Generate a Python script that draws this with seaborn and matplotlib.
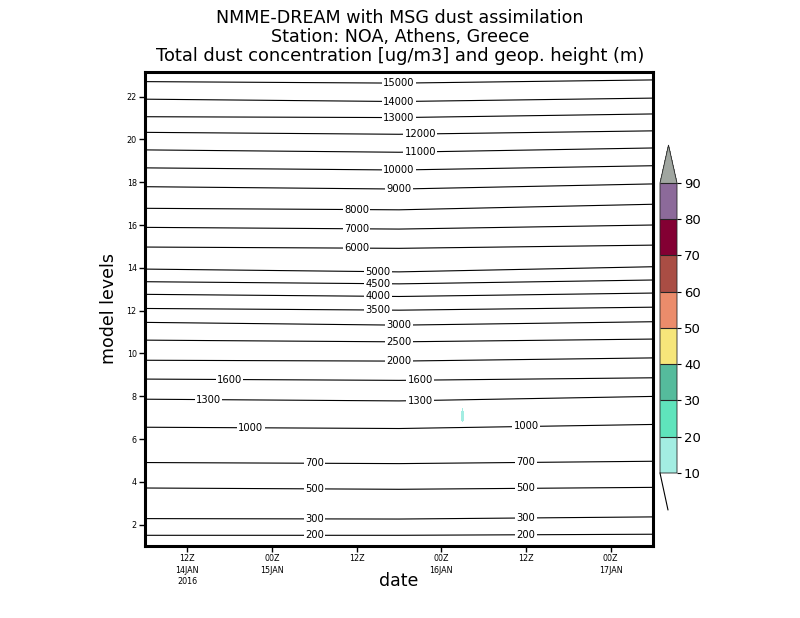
import numpy as np
import pandas as pd
import matplotlib
matplotlib.use('Agg')
import matplotlib.pyplot as plt
from matplotlib.colors import ListedColormap, BoundaryNorm
from matplotlib.lines import Line2D
import seaborn as sns

sns.set_style('white')
plt.rcParams['font.family'] = ['DejaVu Sans']
plt.rcParams['text.color'] = 'black'
plt.rcParams['xtick.color'] = 'black'
plt.rcParams['ytick.color'] = 'black'

# geopotential height isolines: model level of each line at start / middle / end of run
heights = [200, 300, 500, 700, 1000, 1300, 1600, 2000, 2500, 3000, 3500, 4000,
           4500, 5000, 6000, 7000, 8000, 9000, 10000, 11000, 12000, 13000, 14000, 15000]
line_hours = [0, 36, 72]
lev_start = [1.50, 2.28, 3.71, 4.90, 6.55, 7.86, 8.80, 9.68, 10.62, 11.45, 12.10, 12.76,
             13.35, 13.94, 14.97, 15.89, 16.78, 17.79, 18.67, 19.51, 20.33, 21.06, 21.88, 22.70]
lev_mid = [1.50, 2.26, 3.65, 4.85, 6.49, 7.78, 8.74, 9.64, 10.54, 11.32, 12.02, 12.66,
           13.25, 13.81, 14.91, 15.81, 16.71, 17.68, 18.57, 19.40, 20.24, 21.02, 21.77, 22.63]
lev_end = [1.55, 2.36, 3.74, 4.96, 6.68, 7.99, 8.86, 9.79, 10.67, 11.48, 12.16, 12.82,
           13.43, 14.05, 15.06, 16.00, 16.97, 17.92, 18.77, 19.60, 20.40, 21.19, 21.93, 22.78]

# dust concentration (ug/m3): zero except one small patch
dust_hours = np.arange(0, 73)
model_levels = np.arange(1, 24)
blob_hour = [45, 45]
blob_level = [7, 8]
blob_value = [12.5, 7.0]

dust_bounds = [10, 20, 30, 40, 50, 60, 70, 80, 90]
dust_colors = ['#a3ede2', '#5fe4bc', '#55bb9c', '#f6e67a', '#eb8c6b',
               '#a94d44', '#830033', '#8c6a9a']
over_color = '#a0a6a0'

tick_hours = [6, 18, 30, 42, 54, 66]
tick_labels = ['12Z\n14JAN\n2016', '00Z\n15JAN', '12Z', '00Z\n16JAN', '12Z', '00Z\n17JAN']

# where the isoline labels sit (hours)
label_hours = {15000: [36], 14000: [36], 13000: [36], 12000: [39], 11000: [39],
               10000: [36], 9000: [36], 8000: [30], 7000: [30], 6000: [30],
               5000: [33], 4500: [33], 4000: [33], 3500: [33], 3000: [36],
               2500: [36], 2000: [36], 1600: [12, 39], 1300: [9, 39],
               1000: [15, 54], 700: [24, 54], 500: [24, 54], 300: [24, 54], 200: [24, 54]}

rows = []
for i, h in enumerate(heights):
    for t, lv in zip(line_hours, [lev_start[i], lev_mid[i], lev_end[i]]):
        rows.append({'hour': t, 'level': lv, 'height': h})
df = pd.DataFrame(rows)

dust = np.zeros((len(model_levels), len(dust_hours)))
for t, lv, v in zip(blob_hour, blob_level, blob_value):
    dust[lv - 1, t] = v

W, H = 800, 618
fig = plt.figure(figsize=(8, 6.18), dpi=100)
ax = fig.add_axes([145 / W, 1 - 546 / H, 508 / W, 474 / H])

cmap = ListedColormap(dust_colors)
cmap.set_over(over_color)
norm = BoundaryNorm(dust_bounds, cmap.N)
cf = ax.contourf(dust_hours, model_levels, dust, levels=dust_bounds,
                 cmap=cmap, norm=norm, extend='max')

sns.lineplot(data=df, x='hour', y='level', units='height', estimator=None,
             color='black', lw=0.8, ax=ax, legend=False)

for i, h in enumerate(heights):
    for t in label_hours[h]:
        y = np.interp(t, line_hours, [lev_start[i], lev_mid[i], lev_end[i]])
        ax.text(t, y, str(h), ha='center', va='center', fontsize=7.2,
                bbox=dict(boxstyle='square,pad=0.12', fc='white', ec='none'))

ax.set_xlim(0, 72)
ax.set_ylim(1, 23.15)
ax.set_xticks(tick_hours)
ax.set_xticklabels(tick_labels, linespacing=1.35)
ax.set_yticks(range(2, 23, 2))
ax.tick_params(bottom=True, left=True, direction='out', length=4, width=1,
               labelsize=5.8, pad=2, colors='black')
ax.set_xlabel('')
ax.set_ylabel('')
for s in ax.spines.values():
    s.set_linewidth(2.2)
    s.set_color('black')

fig.text(400 / W, 1 - 18 / H, 'NMME-DREAM with MSG dust assimilation',
         ha='center', va='center', fontsize=12.6)
fig.text(400 / W, 1 - 37 / H, 'Station: NOA, Athens, Greece',
         ha='center', va='center', fontsize=12.6)
fig.text(400 / W, 1 - 56 / H, 'Total dust concentration [ug/m3] and geop. height (m)',
         ha='center', va='center', fontsize=12.9)
fig.text(399 / W, 1 - 581 / H, 'date', ha='center', va='center', fontsize=12.5)
fig.text(109 / W, 1 - 309 / H, 'model levels', ha='center', va='center',
         rotation=90, fontsize=12.5)

cax = fig.add_axes([660 / W, 1 - 473 / H, 17 / W, 328 / H])
cb = fig.colorbar(cf, cax=cax, extendfrac=0.131, drawedges=True, ticks=dust_bounds)
cb.outline.set_linewidth(0.6)
cb.dividers.set_linewidth(0.8)
cb.ax.tick_params(right=True, length=3, width=0.8, labelsize=9.5, pad=2,
                  colors='black')
fig.add_artist(Line2D([660 / W, 668 / W], [1 - 473 / H, 1 - 510 / H],
                      color='black', lw=0.8))

fig.savefig('out.png', dpi=100, facecolor='white')
